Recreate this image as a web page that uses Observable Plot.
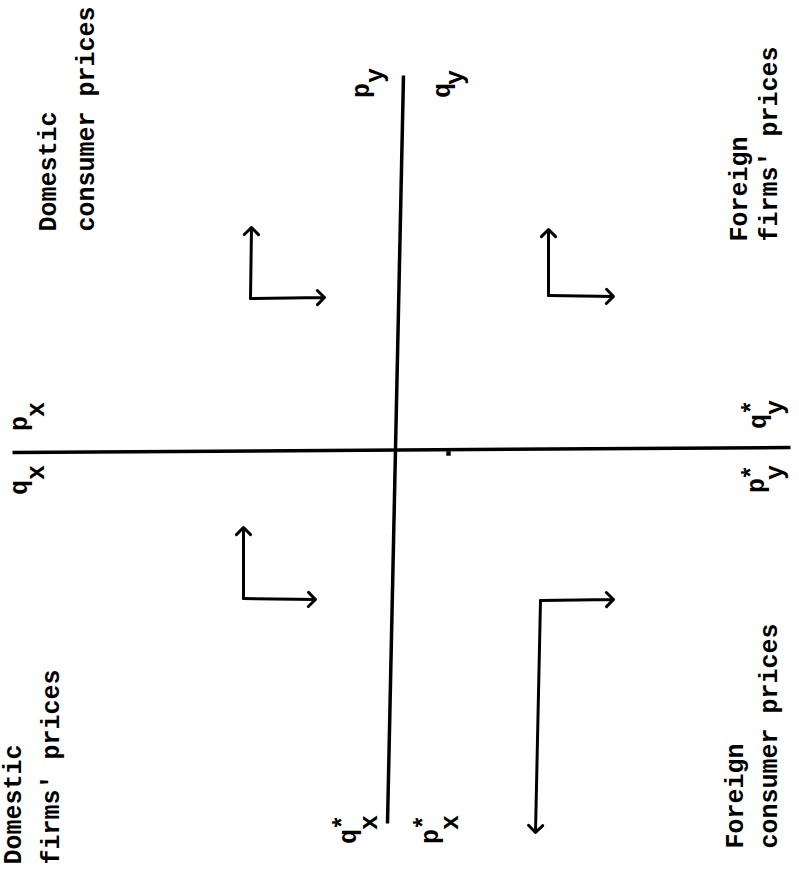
<!DOCTYPE html>
<html><head><meta charset="utf-8">
<script src="https://cdn.jsdelivr.net/npm/d3@7"></script>
<script src="https://cdn.jsdelivr.net/npm/@observablehq/plot@0.6"></script>
<style>body{margin:0;background:#fff}</style>
</head><body><div id="chart"></div>
<script>
// Diagram coordinates (x rightwards, y downwards)
const axisLines = [
  {x1: 12, y1: 452, x2: 790, y2: 447},
  {x1: 403, y1: 75, x2: 387, y2: 823}
];
const arrowSegments = [
  {x1: 250, y1: 298, x2: 251, y2: 227}, {x1: 250, y1: 298, x2: 324, y2: 297},
  {x1: 548, y1: 295, x2: 548, y2: 229}, {x1: 548, y1: 295, x2: 613, y2: 296},
  {x1: 243, y1: 598, x2: 243, y2: 527}, {x1: 243, y1: 598, x2: 315, y2: 599},
  {x1: 540, y1: 600, x2: 613, y2: 599}, {x1: 540, y1: 600, x2: 535, y2: 832}
];
const phrases = [
  {text: "Domestic", x: 47, y: 231},
  {text: "consumer prices", x: 85, y: 231},
  {text: "Domestic", x: 12, y: 864},
  {text: "firms' prices", x: 50, y: 864},
  {text: "Foreign", x: 738, y: 241},
  {text: "firms' prices", x: 768, y: 241},
  {text: "Foreign", x: 734, y: 848},
  {text: "consumer prices", x: 768, y: 848}
];
const baseLetters = [
  {t: "p", x: 18, y: 423}, {t: "q", x: 18, y: 487},
  {t: "p", x: 360, y: 90}, {t: "q", x: 441, y: 90},
  {t: "q", x: 757, y: 421}, {t: "p", x: 755, y: 485},
  {t: "q", x: 347, y: 836}, {t: "p", x: 429, y: 836}
];
const subLetters = [
  {t: "x", x: 35, y: 409}, {t: "x", x: 35, y: 472},
  {t: "y", x: 374, y: 75}, {t: "y", x: 454, y: 77},
  {t: "y", x: 774, y: 407}, {t: "y", x: 774, y: 472},
  {t: "x", x: 368, y: 822}, {t: "x", x: 449, y: 822}
];
const stars = [
  {t: "*", x: 751, y: 407}, {t: "*", x: 751, y: 472},
  {t: "*", x: 342, y: 822}, {t: "*", x: 423, y: 822}
];
const speck = [{x: 448, y: 453}];

const font = {fontFamily: "'Liberation Mono', 'DejaVu Sans Mono', monospace", fontWeight: "bold", fontSize: 25};

const chart = Plot.plot({
  width: 799, height: 874, margin: 0,
  x: {domain: [0, 799], range: [0, 799], axis: null},
  y: {domain: [0, 874], range: [0, 874], axis: null},
  marks: [
    Plot.link(axisLines, {x1: "x1", y1: "y1", x2: "x2", y2: "y2", stroke: "black", strokeWidth: 3.5}),
    Plot.arrow(arrowSegments, {x1: "x1", y1: "y1", x2: "x2", y2: "y2", stroke: "black", strokeWidth: 3, headLength: 5, headAngle: 90}),
    Plot.dot(speck, {x: "x", y: "y", symbol: "square", r: 2.5, fill: "black"}),
    Plot.text(phrases, {x: "x", y: "y", text: "text", rotate: -90, textAnchor: "start", lineAnchor: "middle", fill: "black", ...font}),
    Plot.text(baseLetters, {x: "x", y: "y", text: "t", rotate: -90, textAnchor: "middle", lineAnchor: "middle", fill: "black", ...font}),
    Plot.text(subLetters, {x: "x", y: "y", text: "t", rotate: -90, textAnchor: "middle", lineAnchor: "middle", fill: "black", ...font}),
    Plot.text(stars, {x: "x", y: "y", text: "t", rotate: -90, textAnchor: "middle", lineAnchor: "middle", fill: "black", ...font})
  ]
});
document.getElementById("chart").appendChild(chart);
</script></body></html>
